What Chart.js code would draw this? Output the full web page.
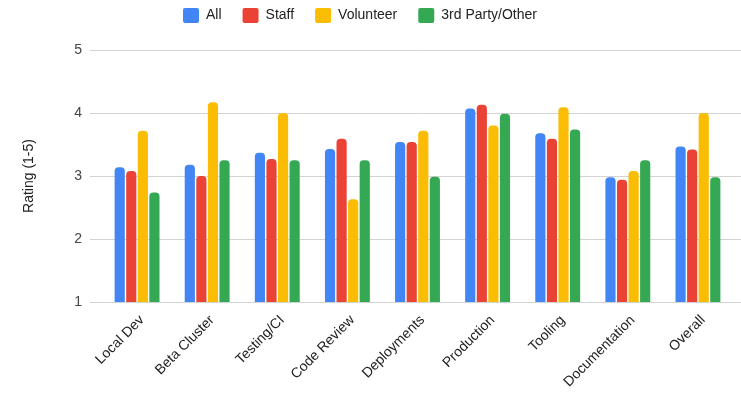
<!DOCTYPE html>
<html>
<head>
<meta charset="utf-8">
<script src="https://cdn.jsdelivr.net/npm/chart.js@4/dist/chart.umd.min.js"></script>
<style>
  html, body { margin: 0; padding: 0; background: #fff; }
  #wrap { width: 741px; height: 395px; }
</style>
</head>
<body>
<div id="wrap"><canvas id="myChart" width="741" height="395"></canvas></div>
<script>
// categorie e valori
const categories = ['Local Dev', 'Beta Cluster', 'Testing/CI', 'Code Review', 'Deployments', 'Production', 'Tooling', 'Documentation', 'Overall'];
const allRatings = [3.14, 3.18, 3.37, 3.43, 3.54, 4.07, 3.68, 2.98, 3.47];
const staffRatings = [3.08, 3.00, 3.27, 3.59, 3.54, 4.13, 3.59, 2.94, 3.42];
const volunteerRatings = [3.72, 4.17, 4.00, 2.63, 3.72, 3.80, 4.09, 3.08, 4.00];
const thirdPartyRatings = [2.74, 3.25, 3.25, 3.25, 2.99, 3.99, 3.74, 3.25, 2.98];
const yTicks = [1, 2, 3, 4, 5];

const fontFamily = "Arial, 'Liberation Sans', sans-serif";

function barSet(label, data, color) {
  return {
    label: label,
    data: data,
    backgroundColor: color,
    borderWidth: 0,
    borderRadius: 4,
    borderSkipped: 'start',
    categoryPercentage: 0.66,
    barPercentage: 0.88,
  };
}

// sposta la legenda dove sta nel grafico originale
const legendShift = {
  id: 'legendShift',
  afterLayout(chart) {
    const lg = chart.legend;
    const w = lg.right - lg.left;
    lg.left = 162;
    lg.right = 162 + w;
    const h = lg.bottom - lg.top;
    lg.top = -13;
    lg.bottom = lg.top + h;
  }
};

// le linee della griglia continuano fino al bordo destro
const gridExtend = {
  id: 'gridExtend',
  beforeDatasetsDraw(chart) {
    const ctx = chart.ctx;
    const y = chart.scales.y;
    ctx.save();
    ctx.strokeStyle = '#d3d3d3';
    ctx.lineWidth = 1;
    yTicks.forEach(v => {
      const py = Math.round(y.getPixelForValue(v)) + 0.5;
      ctx.beginPath();
      ctx.moveTo(chart.chartArea.right, py);
      ctx.lineTo(chart.width, py);
      ctx.stroke();
    });
    ctx.restore();
  }
};

window.onload = function () {
  const chartData = {
    labels: categories,
    datasets: [
      barSet('All', allRatings, '#4285F4'),
      barSet('Staff', staffRatings, '#EA4335'),
      barSet('Volunteer', volunteerRatings, '#FBBC04'),
      barSet('3rd Party/Other', thirdPartyRatings, '#34A853'),
    ],
  };

  new Chart(document.getElementById('myChart'), {
    type: 'bar',
    data: chartData,
    plugins: [legendShift, gridExtend],
    options: {
      responsive: false,
      animation: false,
      layout: { padding: { top: 4, right: 8, left: 0, bottom: 0 } },
      plugins: {
        tooltip: { enabled: false },
        legend: {
          position: 'top',
          align: 'start',
          labels: {
            boxWidth: 16,
            boxHeight: 15,
            padding: 21,
            color: '#222',
            font: { family: fontFamily, size: 14 },
            useBorderRadius: true,
            borderRadius: 2,
          },
        },
      },
      scales: {
        x: {
          grid: { display: false },
          border: { display: false },
          ticks: {
            color: '#222',
            font: { family: fontFamily, size: 14 },
            minRotation: 45,
            maxRotation: 45,
            padding: 2,
            labelOffset: 5,
          },
          afterFit(scale) { scale.height = 93; },
        },
        y: {
          min: 1,
          max: 5,
          afterBuildTicks(scale) { scale.ticks = yTicks.map(v => ({ value: v })); },
          grid: { color: '#d3d3d3', tickLength: 12, tickColor: '#d3d3d3' },
          border: { display: false },
          ticks: {
            color: '#444',
            font: { family: fontFamily, size: 14 },
            padding: 8,
          },
          title: {
            display: true,
            text: 'Rating (1-5)',
            color: '#222',
            font: { family: fontFamily, size: 14 },
            padding: { top: 21, bottom: 0 },
          },
          afterFit(scale) { scale.width = 102; },
        },
      },
    },
  });
};
</script>
</body>
</html>
